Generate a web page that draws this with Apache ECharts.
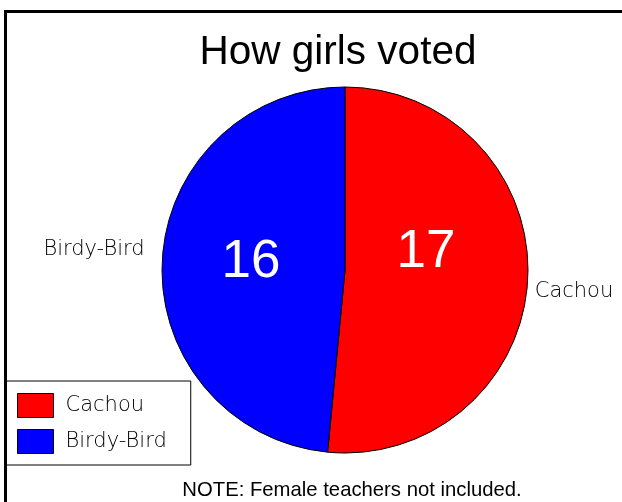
<!DOCTYPE html>
<html>
<head>
<meta charset="utf-8">
<script src="https://cdn.jsdelivr.net/npm/echarts@6/dist/echarts.min.js"></script>
<style>
html,body{margin:0;padding:0;background:#fff;}
#chart{width:622px;height:502px;}
</style>
</head>
<body>
<div id="chart"></div>
<script>
var titleText = "How girls voted";
var noteText = "NOTE: Female teachers not included.";
var categories = ["Cachou", "Birdy-Bird"];
var votes = [17, 16];
var colors = ["#ff0000", "#0000ff"];

var innerPos = [[426, 252], [251, 262]];
var outerPos = [[574, 292], [94, 250]];

var pieData = categories.map(function (c, i) {
  return { name: c, value: votes[i], itemStyle: { color: colors[i] } };
});

var chart = echarts.init(document.getElementById('chart'), null, { renderer: 'canvas' });
chart.setOption({
  animation: false,
  backgroundColor: '#fff',
  title: {
    text: titleText,
    left: 333, top: 27,
    textAlign: 'center',
    textStyle: { fontFamily: 'Liberation Sans', fontSize: 40.5, fontWeight: 'normal', color: '#000' }
  },
  legend: {
    orient: 'vertical',
    left: 6, top: 381,
    data: categories,
    itemWidth: 36, itemHeight: 24, itemGap: 11,
    padding: [12, 24, 11, 11],
    borderColor: '#000', borderWidth: 1,
    backgroundColor: '#fff',
    icon: 'rect',
    itemStyle: { borderColor: '#000', borderWidth: 1 },
    textStyle: { fontFamily: 'DejaVu Sans', fontWeight: 200, fontSize: 21, color: '#000', padding: [0, 0, 0, 7] }
  },
  graphic: [
    { type: 'polyline', shape: { points: [[5.5, 520], [5.5, 11.5], [700, 11.5]] }, style: { fill: null, stroke: '#000', lineWidth: 3 }, z: 100 },
    { type: 'text', style: { text: noteText, x: 352, y: 490, align: 'center', verticalAlign: 'middle', font: '20.3px "Liberation Sans"', fill: '#000' } }
  ],
  series: [
    {
      type: 'pie',
      center: [345, 270],
      radius: 183,
      startAngle: 90,
      clockwise: true,
      data: pieData,
      itemStyle: { borderColor: '#000', borderWidth: 1 },
      label: {
        show: true, position: 'inside',
        formatter: '{c}',
        fontFamily: 'Liberation Sans', fontSize: 53, color: '#fff'
      },
      labelLayout: function (p) {
        return { x: innerPos[p.dataIndex][0], y: innerPos[p.dataIndex][1], align: 'center', verticalAlign: 'middle' };
      },
      emphasis: { disabled: true }
    },
    {
      type: 'pie',
      center: [345, 270],
      radius: 183,
      startAngle: 90,
      clockwise: true,
      data: categories.map(function (c, i) { return { name: c, value: votes[i] }; }),
      itemStyle: { color: 'rgba(0,0,0,0)', borderWidth: 0 },
      legendHoverLink: false,
      silent: true,
      label: {
        show: true, position: 'outside',
        formatter: '{b}',
        overflow: 'none',
        width: 200,
        fontFamily: 'DejaVu Sans', fontWeight: 200, fontSize: 21, color: '#000'
      },
      labelLine: { show: false },
      labelLayout: function (p) {
        return { x: outerPos[p.dataIndex][0], y: outerPos[p.dataIndex][1], align: 'center', verticalAlign: 'middle' };
      },
      emphasis: { disabled: true }
    }
  ]
});
</script>
</body>
</html>
